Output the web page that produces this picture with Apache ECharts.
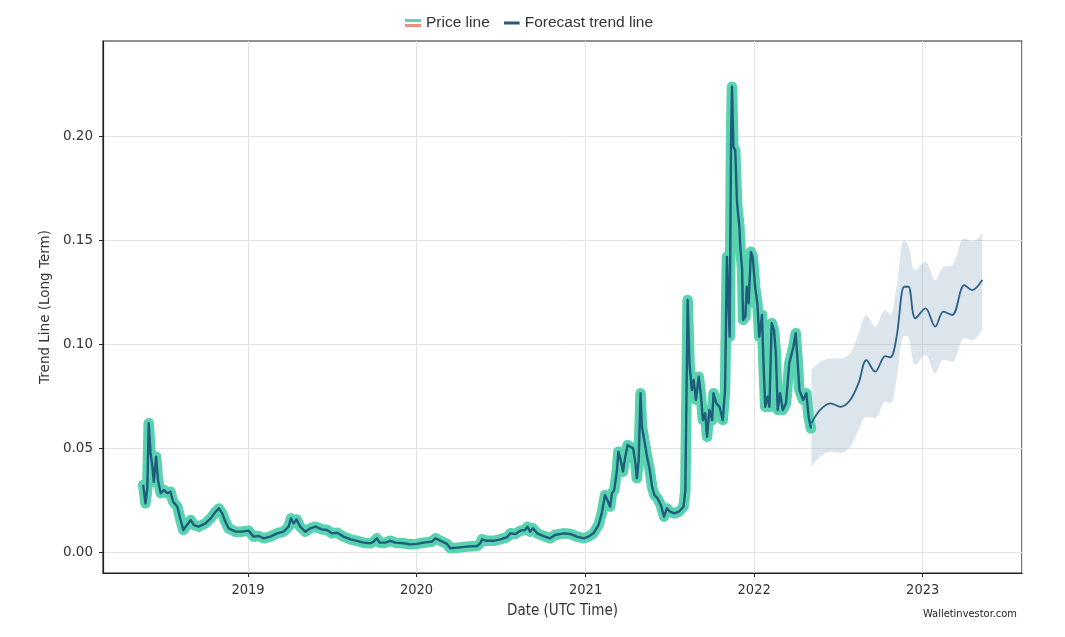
<!DOCTYPE html>
<html>
<head>
<meta charset="utf-8">
<script src="https://cdn.jsdelivr.net/npm/echarts@6/dist/echarts.min.js"></script>
<style>
html,body{margin:0;padding:0;background:#fff;}
#chart{width:1065px;height:637px;}
</style>
</head>
<body>
<div id="chart"></div>
<script>
// ---- DATA ----
const priceDates = [
'2018-05-19','2018-05-24','2018-05-28','2018-05-31','2018-06-04','2018-06-08','2018-06-11','2018-06-16','2018-06-20','2018-06-26',
'2018-07-03','2018-07-10','2018-07-17','2018-07-23','2018-08-01','2018-08-08','2018-08-14','2018-08-19','2018-08-30','2018-09-06',
'2018-09-16','2018-10-01','2018-10-12','2018-10-23','2018-10-30','2018-11-06','2018-11-13','2018-11-20','2018-12-05','2018-12-19',
'2019-01-02','2019-01-13','2019-01-24','2019-02-04','2019-02-18','2019-03-05','2019-03-19','2019-03-30','2019-04-04','2019-04-10',
'2019-04-16','2019-04-24','2019-05-05','2019-05-16','2019-05-27','2019-06-10','2019-06-21','2019-07-02','2019-07-13','2019-07-27',
'2019-08-11','2019-08-25','2019-09-08','2019-09-23','2019-09-30','2019-10-07','2019-10-13','2019-10-25','2019-11-05','2019-11-16',
'2019-12-04','2019-12-18','2020-01-02','2020-01-16','2020-02-03','2020-02-11','2020-02-21','2020-03-07','2020-03-14','2020-03-29',
'2020-04-19','2020-05-11','2020-05-18','2020-05-22','2020-06-01','2020-06-16','2020-06-30','2020-07-15','2020-07-22','2020-08-02',
'2020-08-13','2020-08-23','2020-08-28','2020-09-03','2020-09-09','2020-09-18','2020-10-02','2020-10-16','2020-10-27','2020-11-14',
'2020-11-29','2020-12-13','2020-12-28','2021-01-07','2021-01-18','2021-01-29','2021-02-05','2021-02-12','2021-02-17','2021-02-23',
'2021-02-27','2021-03-04','2021-03-10','2021-03-13','2021-03-18','2021-03-23','2021-03-28','2021-04-02','2021-04-08','2021-04-14',
'2021-04-19','2021-04-22','2021-04-26','2021-04-30','2021-05-03','2021-05-08','2021-05-14','2021-05-20','2021-05-25','2021-05-30',
'2021-06-06','2021-06-13','2021-06-20','2021-06-26','2021-07-03','2021-07-12','2021-07-22','2021-08-01','2021-08-05','2021-08-10',
'2021-08-14','2021-08-19','2021-08-23','2021-08-28','2021-09-03','2021-09-08','2021-09-12','2021-09-17','2021-09-21','2021-09-26',
'2021-10-02','2021-10-05','2021-10-11','2021-10-18','2021-10-25','2021-10-30','2021-11-03','2021-11-09','2021-11-12','2021-11-14',
'2021-11-17','2021-11-21','2021-11-25','2021-11-30','2021-12-02','2021-12-06','2021-12-08','2021-12-13','2021-12-16','2021-12-20',
'2021-12-25','2021-12-29','2022-01-03','2022-01-08','2022-01-12','2022-01-18','2022-01-21','2022-01-25','2022-01-30','2022-02-03',
'2022-02-08','2022-02-13','2022-02-17','2022-02-21','2022-02-26','2022-03-04','2022-03-11','2022-03-18','2022-03-27','2022-04-01',
'2022-04-05','2022-04-09','2022-04-17','2022-04-24','2022-04-29','2022-05-04'
];
const priceValues = [
0.0323,0.0234,0.0308,0.0620,0.0477,0.0410,0.0338,0.0459,0.0347,0.0283,
0.0298,0.0283,0.0290,0.0242,0.0218,0.0154,0.0106,0.0122,0.0154,0.0130,
0.0122,0.0138,0.0162,0.0194,0.0210,0.0186,0.0146,0.0114,0.0098,0.0098,
0.0103,0.0074,0.0077,0.0066,0.0074,0.0090,0.0098,0.0122,0.0162,0.0138,
0.0157,0.0122,0.0098,0.0114,0.0122,0.0109,0.0106,0.0090,0.0093,0.0074,
0.0061,0.0054,0.0045,0.0042,0.0050,0.0066,0.0045,0.0045,0.0054,0.0045,
0.0042,0.0037,0.0039,0.0045,0.0050,0.0066,0.0055,0.0039,0.0018,0.0021,
0.0026,0.0029,0.0042,0.0061,0.0054,0.0054,0.0061,0.0071,0.0090,0.0087,
0.0103,0.0106,0.0122,0.0098,0.0114,0.0090,0.0077,0.0066,0.0082,0.0090,
0.0087,0.0074,0.0066,0.0074,0.0090,0.0130,0.0186,0.0274,0.0250,0.0218,
0.0283,0.0298,0.0395,0.0483,0.0443,0.0387,0.0459,0.0515,0.0507,0.0499,
0.0427,0.0355,0.0443,0.0764,0.0603,0.0539,0.0459,0.0395,0.0314,0.0274,
0.0258,0.0226,0.0170,0.0210,0.0194,0.0186,0.0194,0.0218,0.0298,0.1213,
0.0908,0.0780,0.0828,0.0732,0.0844,0.0748,0.0635,0.0668,0.0555,0.0684,
0.0635,0.0764,0.0716,0.0699,0.0635,0.0780,0.1421,0.1036,0.1999,0.2240,
0.1951,0.1935,0.1678,0.1566,0.1470,0.1357,0.1117,0.1133,0.1277,0.1197,
0.1445,0.1421,0.1277,0.1197,0.1036,0.1141,0.0924,0.0699,0.0748,0.0699,
0.1101,0.1069,0.0956,0.0684,0.0764,0.0684,0.0716,0.0908,0.0988,0.1053,
0.0924,0.0780,0.0732,0.0764,0.0651,0.0595
];
const forecastDates = [
'2022-05-05','2022-05-24','2022-06-15','2022-07-07','2022-07-28','2022-08-15','2022-09-01','2022-09-20','2022-10-12','2022-10-23',
'2022-11-05','2022-11-22','2022-12-01','2022-12-16','2023-01-07','2023-01-28','2023-02-15','2023-03-06','2023-04-01','2023-04-18',
'2023-05-10'
];
const forecastValues = [
0.0620,0.0684,0.0716,0.0699,0.0732,0.0812,0.0924,0.0868,0.0943,0.0937,
0.1030,0.1277,0.1277,0.1125,0.1173,0.1085,0.1157,0.1141,0.1285,0.1261,
0.1309
];
const forecastUpper = [
0.0876,0.0916,0.0932,0.0932,0.0956,0.1050,0.1141,0.1085,0.1165,0.1141,
0.1270,0.1500,0.1478,0.1357,0.1397,0.1309,0.1373,0.1381,0.1510,0.1494,
0.1534
];
const forecastLower = [
0.0411,0.0459,0.0483,0.0478,0.0507,0.0587,0.0651,0.0644,0.0723,0.0716,
0.0828,0.1040,0.1036,0.0900,0.0948,0.0860,0.0924,0.0916,0.1029,0.1020,
0.1069
];
const yTicks = [0, 0.05, 0.10, 0.15, 0.20];

// ---- BUILD ----
const pricePairs = priceDates.map((d, i) => [d, priceValues[i]]);
const fcPairs = forecastDates.map((d, i) => [d, forecastValues[i]]);
const lowPairs = forecastDates.map((d, i) => [d, forecastLower[i]]);
const bandPairs = forecastDates.map((d, i) => [d, +(forecastUpper[i] - forecastLower[i]).toFixed(4)]);

const priceIcon = 'image://data:image/svg+xml;utf8,' + encodeURIComponent(
  '<svg xmlns="http://www.w3.org/2000/svg" width="32" height="20"><rect x="0" y="2" width="32" height="6" fill="#5fd3b3"/><rect x="0" y="12" width="32" height="6" fill="#ec8f78"/></svg>');
const fcIcon = 'image://data:image/svg+xml;utf8,' + encodeURIComponent(
  '<svg xmlns="http://www.w3.org/2000/svg" width="32" height="20"><rect x="0" y="7" width="32" height="6" fill="#1d5a85"/></svg>');

const chart = echarts.init(document.getElementById('chart'), null, {renderer: 'canvas'});
const option = {
  backgroundColor: '#ffffff',
  animation: false,
  legend: {
    top: 10,
    left: 400,
    itemWidth: 16,
    itemHeight: 10,
    itemGap: 14,
    textStyle: {fontFamily: 'Liberation Sans', fontSize: 15.5, color: '#333'},
    data: [
      {name: 'Price line', icon: priceIcon},
      {name: 'Forecast trend line', icon: fcIcon}
    ]
  },
  grid: {
    left: 103, right: 43, top: 41, bottom: 64,
    show: true, borderColor: '#222', borderWidth: 1.2, backgroundColor: 'transparent'
  },
  xAxis: {
    type: 'time',
    min: '2018-02-21',
    max: '2023-08-04',
    minInterval: 365 * 24 * 3600 * 1000,
    splitNumber: 5,
    name: 'Date (UTC Time)',
    nameLocation: 'middle',
    nameGap: 31,
    nameTextStyle: {fontFamily: 'DejaVu Sans Condensed', fontSize: 15, color: '#333'},
    axisLine: {show: true, onZero: false, lineStyle: {color: '#222', width: 1.2}},
    axisTick: {show: true, length: 4, lineStyle: {color: '#222'}},
    axisLabel: {
      formatter: '{yyyy}',
      fontFamily: 'DejaVu Sans Condensed', fontSize: 14.5, color: '#333', margin: 10,
      showMinLabel: false, showMaxLabel: false
    },
    splitLine: {show: true, lineStyle: {color: '#e3e3e3', width: 1}}
  },
  yAxis: {
    type: 'value',
    min: -0.0101,
    max: 0.246,
    name: 'Trend Line (Long Term)',
    nameLocation: 'middle',
    nameGap: 50,
    nameTextStyle: {fontFamily: 'DejaVu Sans', fontSize: 13.5, color: '#333'},
    axisLine: {show: true, onZero: false, lineStyle: {color: '#222', width: 1.2}},
    axisTick: {show: true, length: 4, customValues: yTicks, lineStyle: {color: '#222'}},
    axisLabel: {
      customValues: yTicks,
      fontFamily: 'DejaVu Sans', fontSize: 13.5, color: '#333', margin: 10,
      formatter: v => v.toFixed(2)
    },
    splitLine: {show: true, lineStyle: {color: '#e3e3e3', width: 1}}
  },
  series: [
    {
      name: 'Price line', type: 'line', data: pricePairs, symbol: 'none',
      lineStyle: {color: '#58d2af', width: 10.5, join: 'round', cap: 'round'},
      itemStyle: {color: '#5fd3b3'}, z: 3
    },
    {
      name: 'Price inner', type: 'line', data: pricePairs, symbol: 'none',
      lineStyle: {color: '#1e5d7c', width: 2.4, join: 'round'},
      itemStyle: {color: '#1e5d7c'}, z: 4
    },
    {
      name: 'Band lower', type: 'line', data: lowPairs, stack: 'band', symbol: 'none',
      smooth: 0.35, lineStyle: {opacity: 0}, z: 1
    },
    {
      name: 'Band', type: 'line', data: bandPairs, stack: 'band', symbol: 'none',
      smooth: 0.35, lineStyle: {opacity: 0},
      areaStyle: {color: 'rgba(150,176,198,0.48)'}, z: 1
    },
    {
      name: 'Forecast trend line', type: 'line', data: fcPairs, symbol: 'none',
      smooth: 0.35, lineStyle: {color: '#2a6188', width: 1.8},
      itemStyle: {color: '#1d5a85'}, z: 5
    }
  ],
  graphic: [
    {
      type: 'text', right: 48, top: 609,
      style: {text: 'Walletinvestor.com', font: '11px "DejaVu Sans Condensed"', fill: '#222'}
    }
  ]
};
chart.setOption(option);
</script>
</body>
</html>
